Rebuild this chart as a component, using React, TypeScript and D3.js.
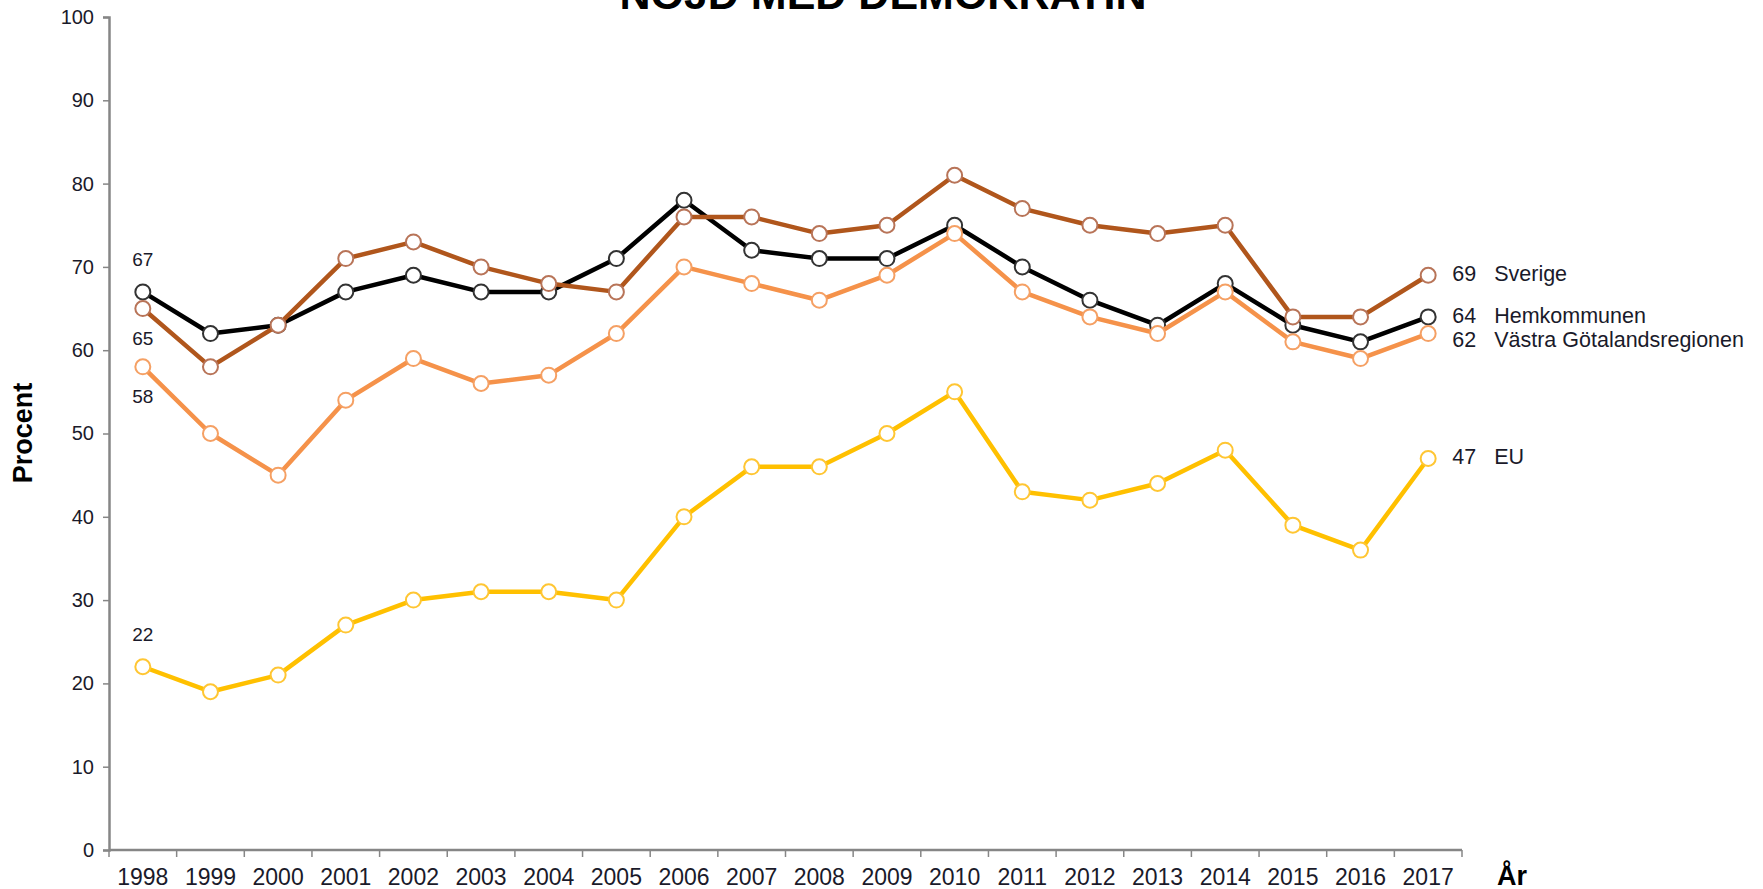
import React, { useEffect, useRef } from "react";
import * as d3 from "d3";

const title = "NÖJD MED DEMOKRATIN";
const years = ["1998", "1999", "2000", "2001", "2002", "2003", "2004", "2005", "2006", "2007",
  "2008", "2009", "2010", "2011", "2012", "2013", "2014", "2015", "2016", "2017"];
const yTicks = [0, 10, 20, 30, 40, 50, 60, 70, 80, 90, 100];

const sverige = [65, 58, 63, 71, 73, 70, 68, 67, 76, 76, 74, 75, 81, 77, 75, 74, 75, 64, 64, 69];
const hemkommunen = [67, 62, 63, 67, 69, 67, 67, 71, 78, 72, 71, 71, 75, 70, 66, 63, 68, 63, 61, 64];
const vastraGotaland = [58, 50, 45, 54, 59, 56, 57, 62, 70, 68, 66, 69, 74, 67, 64, 62, 67, 61, 59, 62];
const eu = [22, 19, 21, 27, 30, 31, 31, 30, 40, 46, 46, 50, 55, 43, 42, 44, 48, 39, 36, 47];

// drawing order: bottom first
const series = [
  { name: "EU", values: eu, color: "#FFC000", marker: "#FFC633", first: "above" },
  { name: "Hemkommunen", values: hemkommunen, color: "#000000", marker: "#333333", first: "above" },
  { name: "Sverige", values: sverige, color: "#B0561C", marker: "#B87458", first: "below" },
  { name: "Västra Götalandsregionen", values: vastraGotaland, color: "#F5924A", marker: "#F5A064", first: "below" },
];

const FONT = "'Liberation Sans', Arial, sans-serif";

const App = () => {
  const svgRef = useRef<SVGSVGElement>(null);

  useEffect(() => {
    const width = 1763;
    const height = 889;
    const margin = { top: 17, right: 301, bottom: 39, left: 109 };

    const svg = d3.select(svgRef.current);
    svg.selectAll("*").remove();
    svg.attr("width", width).attr("height", height);

    const x = d3.scaleBand<string>()
      .domain(years)
      .range([margin.left, width - margin.right]);
    const cx = (yr: string) => (x(yr) as number) + x.bandwidth() / 2;

    const y = d3.scaleLinear()
      .domain([0, 100])
      .range([height - margin.bottom, margin.top]);

    // title (cut at top, like the original)
    svg.append("text")
      .attr("x", 883)
      .attr("y", 9)
      .attr("text-anchor", "middle")
      .style("font-family", FONT)
      .style("font-weight", "bold")
      .style("font-size", "43px")
      .attr("fill", "#000")
      .text(title);

    // y axis
    const yAxis = svg.append("g")
      .attr("transform", `translate(${margin.left},0)`)
      .call(d3.axisLeft(y).tickValues(yTicks).tickSize(6).tickPadding(9));
    yAxis.select(".domain").attr("stroke", "#868686").attr("stroke-width", 2.5);
    yAxis.selectAll(".tick line").attr("stroke", "#868686").attr("stroke-width", 1.5);
    yAxis.selectAll(".tick text")
      .style("font-family", FONT)
      .style("font-size", "20px")
      .attr("fill", "#1a1a2a");

    // x axis
    const x0 = margin.left;
    const x1 = width - margin.right;
    const y0 = y(0);
    const xAxis = svg.append("g");
    xAxis.append("line")
      .attr("x1", x0).attr("x2", x1)
      .attr("y1", y0).attr("y2", y0)
      .attr("stroke", "#868686").attr("stroke-width", 2.5);
    const boundaries = [...years.map(yr => x(yr) as number), x1];
    xAxis.selectAll(".xt")
      .data(boundaries)
      .join("line")
      .attr("x1", d => d).attr("x2", d => d)
      .attr("y1", y0).attr("y2", y0 + 7)
      .attr("stroke", "#868686").attr("stroke-width", 1.5);
    xAxis.selectAll(".xl")
      .data(years)
      .join("text")
      .attr("x", d => cx(d))
      .attr("y", y0 + 35)
      .attr("text-anchor", "middle")
      .style("font-family", FONT)
      .style("font-size", "23px")
      .attr("fill", "#1a1a2a")
      .text(d => d);

    // axis titles
    svg.append("text")
      .attr("transform", `translate(32,433) rotate(-90)`)
      .attr("text-anchor", "middle")
      .style("font-family", FONT)
      .style("font-weight", "bold")
      .style("font-size", "27px")
      .attr("fill", "#000")
      .text("Procent");

    svg.append("text")
      .attr("x", 1497)
      .attr("y", y0 + 35)
      .style("font-family", FONT)
      .style("font-weight", "bold")
      .style("font-size", "27px")
      .attr("fill", "#000")
      .text("År");

    // lines and markers
    const line = d3.line<number>()
      .x((_, i) => cx(years[i]))
      .y(d => y(d));

    series.forEach(s => {
      const g = svg.append("g");
      g.append("path")
        .datum(s.values)
        .attr("fill", "none")
        .attr("stroke", s.color)
        .attr("stroke-width", 4.5)
        .attr("stroke-linejoin", "round")
        .attr("d", line);
      g.selectAll("circle")
        .data(s.values)
        .join("circle")
        .attr("cx", (_, i) => cx(years[i]))
        .attr("cy", d => y(d))
        .attr("r", 7.5)
        .attr("fill", "#fff")
        .attr("stroke", s.marker)
        .attr("stroke-width", 2);

      // first-year value label
      svg.append("text")
        .attr("x", cx(years[0]))
        .attr("y", y(s.values[0]) + (s.first === "above" ? -31 : 31))
        .attr("text-anchor", "middle")
        .attr("dominant-baseline", "middle")
        .style("font-family", FONT)
        .style("font-size", "19px")
        .attr("fill", "#1a1a2a")
        .text(s.values[0]);
    });

    // end labels with simple collision push-down
    const lastX = cx(years[years.length - 1]);
    const ends = series
      .map(s => ({ name: s.name, v: s.values[s.values.length - 1], ly: y(s.values[s.values.length - 1]) }))
      .sort((a, b) => a.ly - b.ly);
    ends.forEach((e, i) => {
      if (i > 0 && e.ly < ends[i - 1].ly + 24) e.ly = ends[i - 1].ly + 24;
    });
    const endG = svg.append("g")
      .style("font-family", FONT)
      .style("font-size", "21.5px")
      .attr("fill", "#1a1a2a");
    ends.forEach(e => {
      endG.append("text")
        .attr("x", lastX + 24)
        .attr("y", e.ly)
        .attr("dominant-baseline", "middle")
        .text(e.v);
      endG.append("text")
        .attr("x", lastX + 66)
        .attr("y", e.ly)
        .attr("dominant-baseline", "middle")
        .text(e.name);
    });
  }, []);

  return (
    <svg ref={svgRef} style={{ position: "absolute", left: 0, top: 0, background: "#fff" }}></svg>
  );
};

export default App;
